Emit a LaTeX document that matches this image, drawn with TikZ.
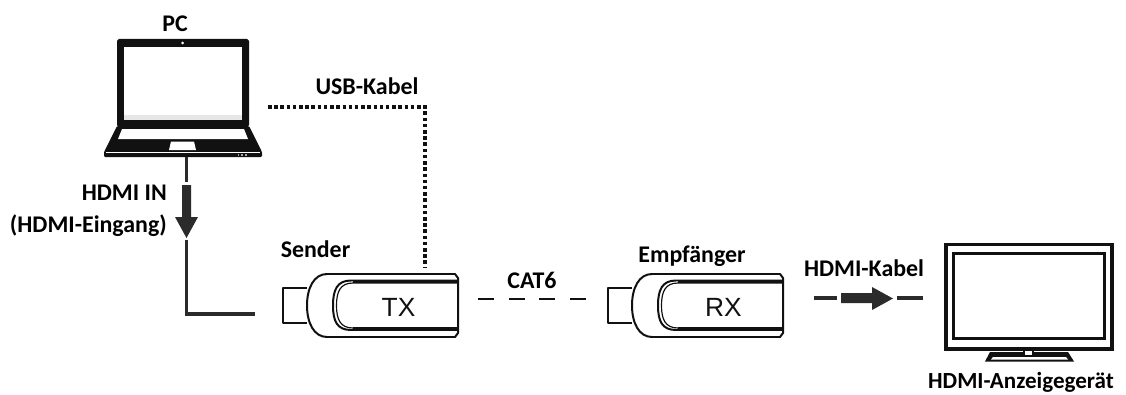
\documentclass[tikz,border=0pt]{standalone}
\usepackage{fontspec}
\setmainfont{Carlito}
\newfontfamily\arialf{Liberation Sans}
\definecolor{ink}{HTML}{111111}
\definecolor{cable}{HTML}{2B2B2B}
\definecolor{strip}{HTML}{E6E6E6}
\tikzset{
  x=0.03cm,y=-0.03cm,
  lbl/.style={font=\fontsize{20.4}{23}\selectfont\bfseries,text=black,inner sep=0pt,anchor=base},
  devtext/.style={font=\arialf\fontsize{22.5}{26}\selectfont,text=ink,inner sep=0pt},
  wire/.style={draw=cable,line width=2.9pt},
  usbwire/.style={draw=ink,line width=3pt,dash pattern=on 3pt off 2.3pt},
  catwire/.style={draw=ink,line width=1.3pt,dash pattern=on 13.6pt off 12.6pt},
  bigarrow/.style={fill=cable,draw=none},
  dongleline/.style={draw=ink,line width=1.7pt,line join=round},
}
\newcommand{\dongle}[2]{%
  \begin{scope}[shift={(#1,0)}]
    \fill[white] (0,273) rectangle (176,338);
    \draw[dongleline,line width=2pt] (24,288) -- (0,288) -- (0,323) -- (24,323);
    \draw[dongleline] (175,278) -- (172,274) -- (44,274)
       .. controls (31,274) and (24,288) .. (24,305.5)
       .. controls (24,323) and (31,337) .. (44,337) -- (172,337) -- (175,333) -- cycle;
    \draw[dongleline] (175,280.5) -- (68,280.5)
       .. controls (54,280.5) and (50,290) .. (50,305.5)
       .. controls (50,321) and (54,330) .. (68,330) -- (175,330);
    \draw[dongleline,line width=1pt] (175,283) -- (70,283)
       .. controls (57,283) and (53.5,292) .. (53.5,305.5)
       .. controls (53.5,319) and (57,328) .. (70,328) -- (175,328);
    \fill[ink] (70,279.8) rectangle (175,283);
    \fill[ink] (70,327) rectangle (175,330.8);
    \node[devtext] (#2) at (115.5,307) {#2};
  \end{scope}
}
\begin{document}
\begin{tikzpicture}
\useasboundingbox (0,0) rectangle (1126,394);
% laptop
\fill[ink,rounded corners=1.5pt] (117,127) -- (117,39) -- (249,39) -- (249,127) -- cycle;
\fill[white] (124,47) rectangle (242,120);
\fill[strip] (124,115) rectangle (242,120);
\fill[white] (182.7,43) circle (1.5);
\fill[ink,rounded corners=1pt] (117,126) -- (249,126) -- (262,152) -- (262,157) -- (104,157) -- (104,152) -- cycle;
\fill[white] (122,129) -- (244,129) -- (248,139) -- (118,139) -- cycle;
\fill[white] (171,141.5) -- (194,141.5) -- (196,150) -- (169,150) -- cycle;
\draw[gray!70,line width=1.2pt,dash pattern=on 1.6pt off 1.6pt] (237.5,155) -- (247,155);
\draw[white,line width=0.5pt] (106,152.5) -- (260,152.5);
\coordinate (pcbottom) at (186.5,157);
\coordinate (pcusb) at (268,107);
\node[lbl] (pc) at (175,31.7) {PC};
% HDMI in
\coordinate (inA) at (186.5,182);
\coordinate (inB) at (186.5,240);
\coordinate (inC) at (186.5,314);
\coordinate (inD) at (255,314);
\draw[wire] (pcbottom) -- (inA);
\draw[wire] (inB) -- (inC) -- (inD);
\fill[bigarrow] (182,185) -- (191,185) -- (191,217) -- (198,217) -- (186.5,238) -- (175,217) -- (182,217) -- cycle;
\node[lbl,anchor=base east] (hdmiin) at (167,200.7) {HDMI IN};
\node[lbl,anchor=base east] (hdmiein) at (167,232.7) {(HDMI-Eingang)};
% dongles
\dongle{283}{TX}
\dongle{608}{RX}
\node[lbl] (sender) at (315.5,257) {Sender};
\node[lbl] (empf) at (692,262.7) {Empfänger};
% usb
\coordinate (usbA) at (425,107);
\coordinate (usbB) at (425,268);
\draw[usbwire] (pcusb) -- (usbA) -- (usbB);
\node[lbl] (usb) at (367,94) {USB-Kabel};
% cat6
\coordinate (catA) at (478,299);
\coordinate (catB) at (586,299);
\draw[catwire] (catA) -- (catB);
\node[lbl] (cat) at (532,288) {CAT6};
% hdmi cable
\coordinate (outA) at (814,298);
\coordinate (outB) at (837,298);
\coordinate (outC) at (897,298);
\coordinate (outD) at (923,298);
\draw[wire] (outA) -- (outB);
\draw[wire] (outC) -- (outD);
\fill[bigarrow] (841,293) -- (872,293) -- (872,287) -- (893,298.5) -- (872,310) -- (872,303) -- (841,303) -- cycle;
\node[lbl] (hk) at (864,276.7) {HDMI-Kabel};
% TV
\draw[ink,line width=3.4pt] (945.5,244.5) rectangle (1112,349);
\draw[ink,line width=2.2pt] (953.5,253.5) rectangle (1104.5,338.5);
\fill[ink] (990,352) -- (1068,352) -- (1074,361.5) -- (985,361.5) -- cycle;
\fill[white] (993,357) -- (1066,357) -- (1068,359.5) -- (991,359.5) -- cycle;
\draw[ink,line width=1.2pt,fill=white] (1024,350) rectangle (1033,356);
\node[lbl,font=\fontsize{19.7}{23}\selectfont\bfseries] (tv) at (1021,388) {HDMI-Anzeigegerät};
\end{tikzpicture}
\end{document}
